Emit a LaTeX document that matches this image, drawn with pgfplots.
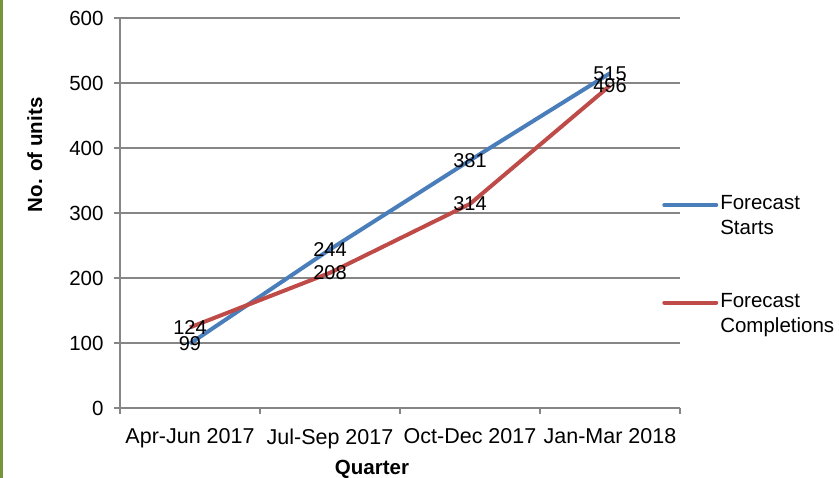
\documentclass[border=0pt]{standalone}
\usepackage{fontspec}
\setmainfont{Liberation Sans}
\usepackage{pgfplots}
\pgfplotsset{compat=1.18}
\definecolor{sblue}{RGB}{74,126,187}
\definecolor{cred}{RGB}{190,75,72}
\definecolor{axgray}{RGB}{134,134,134}
\definecolor{sidegreen}{RGB}{119,147,60}
\newcommand{\cfont}{\fontsize{21.5}{25}\selectfont}
\newcommand{\yfont}{\fontsize{20.5}{25}\selectfont}
\newcommand{\dfont}{\fontsize{20}{24}\selectfont}
\newcommand{\lfont}{\fontsize{20.5}{25}\selectfont}
\begin{document}
\begin{tikzpicture}[x=1pt,y=1pt]
\useasboundingbox (0,0) rectangle (839,478);
\fill[sidegreen] (0,0) rectangle (2.5,478);
\begin{axis}[
  at={(120pt,70pt)}, anchor=south west,
  scale only axis, width=560pt, height=390pt,
  xmin=-0.5, xmax=3.5, ymin=0, ymax=600,
  ytick={0,100,...,600},
  xtick={0,1,2,3},
  xticklabels={Apr-Jun 2017,Jul-Sep 2017,Oct-Dec 2017,Jan-Mar 2018},
  minor xtick={-0.5,0.5,1.5,2.5,3.5},
  axis x line*=bottom, axis y line*=left,
  axis line style={draw=axgray, line width=1.2pt, -},
  ymajorgrids, grid style={draw=axgray, line width=1.2pt},
  tick align=outside,
  every tick/.style={draw=axgray, line width=1.2pt},
  major tick length=6pt, minor tick length=6pt,
  major x tick style={draw=none},
  /pgf/number format/assume math mode=true,
  tick label style={text=black},
  xticklabel style={font=\cfont, yshift=-11pt},
  yticklabel style={font=\yfont, xshift=-7pt},
  xlabel={\textbf{Quarter}}, ylabel={\textbf{No. of units}},
  label style={font=\yfont},
  xlabel style={at={(rel axis cs:0.45,-0.158)}, anchor=center},
  ylabel style={at={(rel axis cs:-0.152,0.649)}, anchor=center},
  legend style={at={(rel axis cs:0.968,0.55)}, anchor=north west, draw=none, fill=none,
    font=\lfont, row sep=53pt, inner sep=0pt,
    nodes={inner sep=2pt}},
  legend cell align=left,
  legend style={cells={align=left}},
  legend image code/.code={\draw[#1, line cap=round] (0pt,11pt) -- (52pt,11pt);},
  nodes near coords,
  every node near coord/.append style={anchor=center, font=\dfont, text=black},
  clip=false,
]
\addplot[sblue, line width=4pt, line join=round] coordinates {(0,99) (1,244) (2,381) (3,515)};
\addlegendentry{Forecast\\Starts}
\addplot[cred, line width=4pt, line join=round] coordinates {(0,124) (1,208) (2,314) (3,496)};
\addlegendentry{Forecast\\Completions}
\end{axis}
\end{tikzpicture}
\end{document}
